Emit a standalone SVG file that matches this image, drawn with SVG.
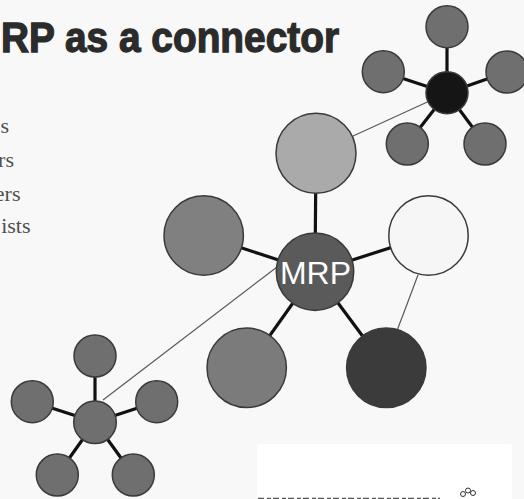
<svg xmlns="http://www.w3.org/2000/svg" width="524" height="499" viewBox="0 0 524 499">
<style>
.c{stroke:#3a3a3a;stroke-width:1.5}
.sat{fill:#6f6f6f}
.thick{stroke:#111;stroke-width:3.2;fill:none}
.thin{stroke:#5a5a5a;stroke-width:1.2;fill:none}
.bul{font-family:"Liberation Serif","Times New Roman",serif;font-size:22px;fill:#505050;text-anchor:end}
</style>
<rect x="0" y="0" width="524" height="499" fill="#f8f8f8"/>
<text x="1" y="52" font-family="Liberation Sans,Arial,sans-serif" font-weight="bold" font-size="42" fill="#2b2b2b" stroke="#2b2b2b" stroke-width="1.3" textLength="338" lengthAdjust="spacingAndGlyphs">RP as a connector</text>
<g id="bullets">
<text class="bul" x="9" y="133">s</text>
<text class="bul" x="14" y="167">rs</text>
<text class="bul" x="20.5" y="200.5">ers</text>
<text class="bul" x="30.5" y="233">ists</text>
</g>
<rect x="257" y="444" width="255" height="60" rx="3" fill="#ffffff"/>
<line x1="258" y1="498.5" x2="440" y2="498.5" stroke="#555" stroke-width="1.6" stroke-dasharray="6 3 4 2"/>
<g fill="none" stroke="#333" stroke-width="1">
<circle cx="463" cy="494" r="2.5"/><circle cx="468" cy="490.5" r="2.5"/><circle cx="473" cy="493" r="2.5"/>
</g>
<g id="connectors">
<line class="thick" x1="315" y1="272" x2="316" y2="153"/>
<line class="thick" x1="315" y1="272" x2="204" y2="235.5"/>
<line class="thick" x1="315" y1="272" x2="428.5" y2="235.5"/>
<line class="thick" x1="315" y1="272" x2="246.7" y2="368"/>
<line class="thick" x1="315" y1="272" x2="386.3" y2="368"/>
<line class="thick" x1="447" y1="93" x2="447" y2="27"/>
<line class="thick" x1="447" y1="93" x2="383.3" y2="72"/>
<line class="thick" x1="447" y1="93" x2="507" y2="72"/>
<line class="thick" x1="447" y1="93" x2="407.3" y2="144"/>
<line class="thick" x1="447" y1="93" x2="485" y2="144"/>
<line class="thick" x1="95" y1="422" x2="95" y2="356"/>
<line class="thick" x1="95" y1="422" x2="32.3" y2="401.7"/>
<line class="thick" x1="95" y1="422" x2="156.7" y2="401.7"/>
<line class="thick" x1="95" y1="422" x2="57.3" y2="475"/>
<line class="thick" x1="95" y1="422" x2="133.3" y2="475"/>
<line class="thin" x1="447" y1="93" x2="316" y2="153"/>
<line class="thin" x1="277" y1="267" x2="103" y2="400"/>
<line class="thin" x1="418" y1="275" x2="397.3" y2="330"/>
</g>
<g id="n-top"><circle class="c" cx="316" cy="153.3" r="40" fill="#aaaaaa"/></g>
<g id="n-left"><circle class="c" cx="203.7" cy="235.5" r="39.7" fill="#808080"/></g>
<g id="n-right"><circle class="c" cx="428.5" cy="235.5" r="39.7" fill="#f6f6f6"/></g>
<g id="n-bottomleft"><circle class="c" cx="246.7" cy="367.8" r="39.7" fill="#7b7b7b"/></g>
<g id="n-bottomright"><circle class="c" cx="386.3" cy="367.8" r="39.7" fill="#3b3b3b"/></g>
<g id="n-mrp"><circle class="c" cx="315" cy="271.7" r="38.7" fill="#5a5a5a"/>
<text x="315.5" y="284.3" font-family="Liberation Sans,Arial,sans-serif" font-size="32" fill="#ffffff" text-anchor="middle">MRP</text></g>
<g id="cluster-tr">
<circle class="c sat" cx="447" cy="26.7" r="21"/>
<circle class="c sat" cx="383.3" cy="71.7" r="21"/>
<circle class="c sat" cx="507" cy="72" r="21"/>
<circle class="c sat" cx="407.3" cy="144" r="21"/>
<circle class="c sat" cx="485" cy="144" r="21"/>
<circle class="c" cx="447" cy="92.7" r="21" fill="#151515"/>
</g>
<g id="cluster-bl">
<circle class="c sat" cx="95" cy="356" r="21"/>
<circle class="c sat" cx="32.3" cy="401.7" r="21"/>
<circle class="c sat" cx="156.7" cy="401.7" r="21"/>
<circle class="c sat" cx="57.3" cy="475" r="21"/>
<circle class="c sat" cx="133.3" cy="475" r="21"/>
<circle class="c sat" cx="95" cy="422.3" r="21.3"/>
</g>
</svg>
